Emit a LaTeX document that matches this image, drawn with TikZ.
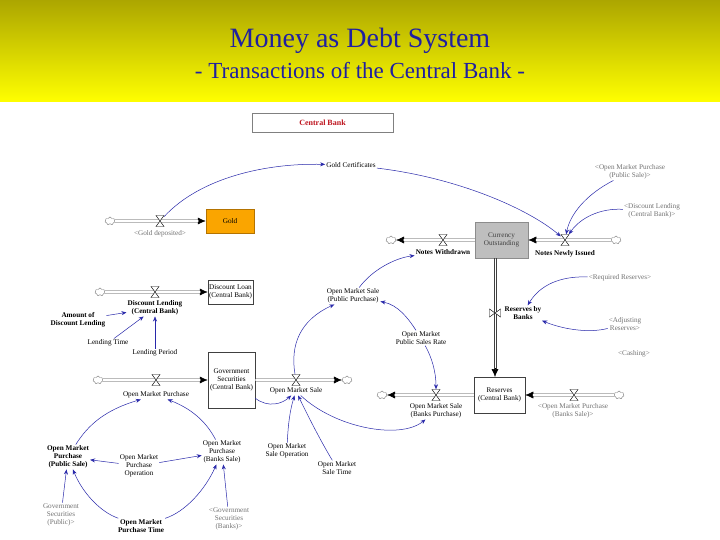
\documentclass[tikz,border=0pt]{standalone}
\usepackage{fontspec}
\setmainfont{Liberation Serif}
\usetikzlibrary{arrows.meta,shapes.symbols,calc}
\definecolor{titleblue}{RGB}{32,32,160}
\definecolor{connblue}{RGB}{40,40,170}
\definecolor{cbred}{RGB}{190,20,30}
\definecolor{goldfill}{RGB}{250,165,0}
\definecolor{golddraw}{RGB}{180,115,0}
\definecolor{curfill}{RGB}{190,190,190}
\definecolor{hdtop}{RGB}{172,166,0}
\definecolor{hdbot}{RGB}{255,255,0}
\begin{document}
\begin{tikzpicture}[x=1pt,y=-1pt,
  lbl/.style={font=\fontsize{7.2}{8}\selectfont, align=center, inner sep=1pt, text=black},
  blbl/.style={lbl, font=\fontsize{7.2}{8}\selectfont\bfseries},
  shadowv/.style={lbl, text=black!55},
  stock/.style={draw=black!75, fill=white, line width=0.5pt, align=center, inner sep=1pt, font=\fontsize{7.2}{8}\selectfont},
  cloudnode/.style={cloud, cloud puffs=7, draw=black!55, fill=white, minimum width=10pt, minimum height=8pt, inner sep=0pt, line width=0.4pt},
  valve/.style={inner sep=0pt, minimum width=8pt, minimum height=11pt},
  valvev/.style={inner sep=0pt, minimum width=11pt, minimum height=8pt},
  pipe/.style={draw=black!75, double=white, double distance=1.8pt, line width=0.55pt},
  pipeedge/.style={draw=black!75, line width=0.6pt},
  pipetip/.style={draw=black, line width=0.5pt, -{Latex[length=8pt,width=7pt]}},
  conn/.style={draw=connblue, line width=0.5pt, -{Stealth[length=5pt,width=4pt]}},
  hg/.style={draw=black, fill=white, line width=0.45pt}
]
\path[use as bounding box] (0,0) rectangle (720,540);
\fill[white] (0,0) rectangle (720,540);
\shade[top color=hdtop, bottom color=hdbot] (0,0) rectangle (720,102);
\node[font=\fontsize{28}{30}\selectfont, text=titleblue] (t1) at (360,41) {Money as Debt System};
\node[font=\fontsize{23}{26}\selectfont, text=titleblue] (t2) at (360,71) {- Transactions of the Central Bank -};

% Central Bank title box
\node[draw=black!50, line width=0.5pt, minimum width=141pt, minimum height=19pt, text=cbred, font=\fontsize{8}{9}\selectfont\bfseries] (cb) at (322.5,122.5) {Central Bank};

% stocks
\node[stock, fill=goldfill, draw=golddraw, minimum width=48pt, minimum height=24pt] (gold) at (230,221) {Gold};
\node[stock, fill=curfill, draw=black!45, text=black!75, minimum width=53pt, minimum height=36pt] (cur) at (501.5,240) {Currency\\Outstanding};
\node[stock, minimum width=51pt, minimum height=36pt] (rsv) at (499.5,395) {Reserves\\(Central Bank)};
\node[stock, minimum width=45pt, minimum height=24pt] (dl) at (230.5,292) {Discount Loan\\(Central Bank)};
\node[stock, minimum width=47pt, minimum height=56pt] (gov) at (231.5,380) {Government\\Securities\\(Central Bank)};

% clouds
\node[cloudnode] (cGold) at (110,221) {};
\node[cloudnode] (cNW) at (391,240) {};
\node[cloudnode] (cNI) at (616,240) {};
\node[cloudnode] (cOMSB) at (382,395) {};
\node[cloudnode] (cOMPB) at (619,395) {};
\node[cloudnode] (cDL) at (100,292) {};
\node[cloudnode] (cOMP) at (98,380) {};
\node[cloudnode] (cOMS) at (347,380) {};

% valves
\node[valve] (vGold) at (160,221) {};
\node[valve] (vNW) at (443,240) {};
\node[valve] (vNI) at (565,240) {};
\node[valvev] (vRB) at (495,313) {};
\node[valve] (vOMSB) at (436,395) {};
\node[valve] (vOMPB) at (574,395) {};
\node[valve] (vDL) at (155,292) {};
\node[valve] (vOMP) at (156,380) {};
\node[valve] (vOMS) at (296,380) {};
\coordinate (rbTopL) at (493.8,258.3);
\coordinate (rbTopR) at (496.2,258.3);
\coordinate (rbEndL) at (493.8,370);
\coordinate (rbEndR) at (496.2,370);
\coordinate (rbEnd) at (495,368);
\coordinate (rbBot) at (495,377);

% pipes
\draw[pipetip] (cGold) -- (gold); \draw[pipe, shorten >=7.5pt] (cGold) -- (gold);
\draw[pipetip] (cur) -- (cNW); \draw[pipe, shorten >=7.5pt] (cur) -- (cNW);
\draw[pipetip] (cNI) -- (cur); \draw[pipe, shorten >=7.5pt] (cNI) -- (cur);
\draw[pipeedge] (rbTopL) -- (rbEndL);
\draw[pipeedge] (rbTopR) -- (rbEndR);
\draw[pipetip] (rbEnd) -- (rbBot);
\draw[pipetip] (rsv) -- (cOMSB); \draw[pipe, shorten >=7.5pt] (rsv) -- (cOMSB);
\draw[pipetip] (cOMPB) -- (rsv); \draw[pipe, shorten >=7.5pt] (cOMPB) -- (rsv);
\draw[pipetip] (cDL) -- (dl); \draw[pipe, shorten >=7.5pt] (cDL) -- (dl);
\draw[pipetip] (cOMP) -- (gov); \draw[pipe, shorten >=7.5pt] (cOMP) -- (gov);
\draw[pipetip] (gov) -- (cOMS); \draw[pipe, shorten >=7.5pt] (gov) -- (cOMS);

\foreach \v in {vGold,vNW,vNI,vOMSB,vOMPB,vDL,vOMP,vOMS}
  \draw[hg] (\v.center) +(-4,-5.5) -- +(4,-5.5) -- +(-4,5.5) -- +(4,5.5) -- cycle;
\draw[hg] (vRB.center) +(-5.5,-4) -- +(-5.5,4) -- +(5.5,-4) -- +(5.5,4) -- cycle;

% labels
\node[shadowv] (lGold) at (160,234) {<Gold deposited>};
\node[lbl] (gcert) at (351,165) {Gold Certificates};
\node[blbl] (nwl) at (443,252) {Notes Withdrawn};
\node[blbl] (nil) at (565,254) {Notes Newly Issued};
\node[shadowv] (omps) at (630,172) {<Open Market Purchase\\(Public Sale)>};
\node[shadowv] (dlcb) at (652,211) {<Discount Lending\\(Central Bank)>};
\node[shadowv] (reqr) at (620,278) {<Required Reserves>};
\node[blbl] (rbb) at (523,313) {Reserves by\\Banks};
\node[shadowv] (adjr) at (625,324) {<Adjusting\\Reserves>};
\node[shadowv] (cash) at (634,354) {<Cashing>};
\node[lbl] (omsbl) at (436,411) {Open Market Sale\\(Banks Purchase)};
\node[shadowv] (ompbl) at (573,411) {<Open Market Purchase\\(Banks Sale)>};
\node[lbl] (ompsr) at (421,338) {Open Market\\Public Sales Rate};
\node[lbl] (omspp) at (353,296) {Open Market Sale\\(Public Purchase)};
\node[blbl] (dll) at (155,308) {Discount Lending\\(Central Bank)};
\node[blbl] (adl) at (78,320) {Amount of\\Discount Lending};
\node[lbl] (lt) at (108,343) {Lending Time};
\node[lbl] (lp) at (155,353) {Lending Period};
\node[lbl] (ompl) at (156,395) {Open Market Purchase};
\node[lbl] (omsl) at (296,391) {Open Market Sale};
\node[lbl] (omso) at (287,451) {Open Market\\Sale Operation};
\node[lbl] (omst) at (337,468) {Open Market\\Sale Time};
\node[blbl] (ompPS) at (68,457) {Open Market\\Purchase\\(Public Sale)};
\node[lbl] (ompO) at (139,466) {Open Market\\Purchase\\Operation};
\node[lbl] (ompBS) at (222,452) {Open Market\\Purchase\\(Banks Sale)};
\node[shadowv] (gsP) at (61,515) {Government\\Securities\\(Public)>};
\node[blbl] (ompT) at (141,526) {Open Market\\Purchase Time};
\node[shadowv] (gsB) at (229,519) {<Government\\Securities\\(Banks)>};

% connectors
\draw[conn] (vGold) .. controls (200,178) and (265,163) .. (gcert);
\draw[conn] (gcert) .. controls (460,178) and (530,210) .. (vNI);
\draw[conn] (omps) .. controls (585,195) and (570,215) .. (vNI);
\draw[conn] (dlcb) .. controls (600,208) and (580,218) .. (vNI);
\draw[conn] (reqr) .. controls (560,276) and (540,285) .. (rbb);
\draw[conn] (adjr) .. controls (590,333) and (565,330) .. (rbb);
\draw[conn] (ompsr) .. controls (408,318) and (398,305) .. (omspp);
\draw[conn] (ompsr) .. controls (432,358) and (436,372) .. (vOMSB);
\draw[conn] (omspp) .. controls (372,270) and (395,258) .. (nwl);
\draw[conn] (vOMS) .. controls (290,345) and (300,320) .. (omspp);
\draw[conn] (gov) .. controls (268,408) and (282,404) .. (omsl);
\draw[conn] (omso) .. controls (288,425) and (290,410) .. (omsl);
\draw[conn] (omst) .. controls (320,440) and (305,410) .. (omsl);
\draw[conn] (omsl) .. controls (335,428) and (400,440) .. (omsbl);
\draw[conn] (ompPS) .. controls (88,425) and (105,410) .. (ompl);
\draw[conn] (ompBS) .. controls (208,425) and (195,410) .. (ompl);
\draw[conn] (ompO) -- (ompPS);
\draw[conn] (ompO) -- (ompBS);
\draw[conn] (gsP) -- (ompPS);
\draw[conn] (ompT) .. controls (100,512) and (82,492) .. (ompPS);
\draw[conn] (ompT) .. controls (185,512) and (205,490) .. (ompBS);
\draw[conn] (gsB) -- (ompBS);
\draw[conn] (adl) -- (dll);
\draw[conn] (lt) -- (dll);
\draw[conn] (lp) -- (dll);
\end{tikzpicture}
\end{document}
